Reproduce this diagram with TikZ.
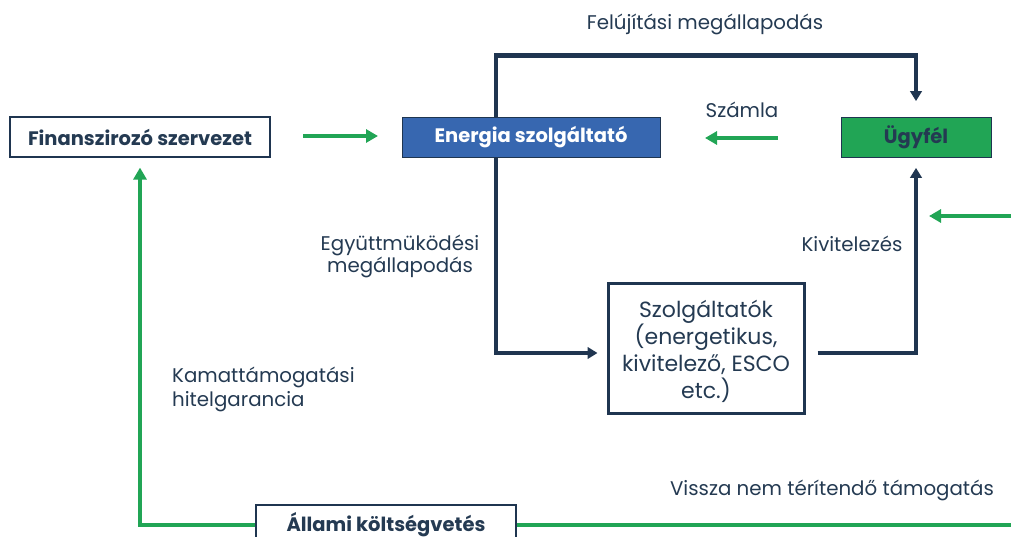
\documentclass[tikz,border=0pt]{standalone}
\usepackage{fontspec}
\setmainfont{Poppins}
\usetikzlibrary{arrows.meta}
\definecolor{navy}{HTML}{1F3550}
\definecolor{txt}{HTML}{243A52}
\definecolor{grn}{HTML}{21A555}
\definecolor{blu}{HTML}{3767B0}
\tikzset{
  boxbase/.style={rectangle, inner sep=0pt, font=\fontsize{19.5}{22}\selectfont\bfseries},
  wbox/.style={boxbase, draw=navy, line width=1.2pt, fill=white, text=txt},
  lbl/.style={text=txt, inner sep=0pt, font=\fontsize{19.8}{22}\selectfont},
  darrow/.style={draw=navy, line width=4.5pt, -{Triangle[length=10pt,width=11.5pt]}},
  dline/.style={draw=navy, line width=4.5pt},
  garrow/.style={draw=grn, line width=4pt, -{Triangle[length=12pt,width=13pt]}},
  gline/.style={draw=grn, line width=4pt},
}
\begin{document}
\begin{tikzpicture}[x=1pt,y=-1pt]
\useasboundingbox (0,0) rectangle (1011,537);
% nodes
\node[wbox, minimum width=260pt, minimum height=40pt] (fin) at (140,137) {Finanszirozó szervezet};
\node[boxbase, draw=navy, line width=0.8pt, fill=blu, text=white, minimum width=258pt, minimum height=40pt] (en) at (531,137.5) {Energia szolgáltató};
\node[boxbase, draw=navy, line width=0.8pt, fill=grn, text=txt, minimum width=150pt, minimum height=40pt] (ugy) at (916,137.5) {Ügyfél};
\node[draw=navy, line width=3pt, fill=white, inner sep=0pt, minimum width=196pt, minimum height=130pt] (szolg) at (706,348) {};
\node[text=txt, inner sep=0pt, align=center, font=\fontsize{22}{27}\selectfont] (szolgt) at (706,351.5) {Szolgáltatók\\(energetikus,\\kivitelező, ESCO\\etc.)};
\node[wbox, minimum width=260pt, minimum height=40pt] (all) at (386,525) {Állami költségvetés};
% labels
\node[lbl] (l1) at (705,24) {Felújítási megállapodás};
\node[lbl] (l2) at (742,110) {Számla};
\node[lbl, align=center] (l3) at (400,256) {Együttmüködési\\megállapodás};
\node[lbl] (l4) at (852,244) {Kivitelezés};
\node[lbl, align=left, anchor=west, font=\fontsize{19.8}{24}\selectfont] (l5) at (172,389) {Kamattámogatási\\hitelgarancia};
\node[lbl] (l6) at (832,490) {Vissza nem térítendő támogatás};
% free-end coordinates
\coordinate (g1a) at (303,136);
\coordinate (g1b) at (378,136);
\coordinate (g2a) at (778,138);
\coordinate (g2b) at (705,138);
\coordinate (g3a) at (1011,216);
\coordinate (g3b) at (929,216);
\coordinate (g4b) at (1011,525);
% dark connectors
\draw[darrow, shorten >=16pt] ([xshift=-35pt]en.north) -- ++(0,-61.5) -| (ugy.north);
\draw[darrow, shorten >=9pt] ([xshift=-35pt]en.south) |- ([yshift=-5pt]szolg.west);
\draw[darrow, shorten >=10pt] ([xshift=12pt,yshift=-5pt]szolg.east) -| (ugy.south);
% green connectors
\draw[garrow] (g1a) -- (g1b);
\draw[garrow] (g2a) -- (g2b);
\draw[garrow] (g3a) -- (g3b);
\draw[garrow, shorten >=10pt] (all.west) -| (fin.south);
\draw[gline] (all.east) -- (g4b);
\end{tikzpicture}
\end{document}
